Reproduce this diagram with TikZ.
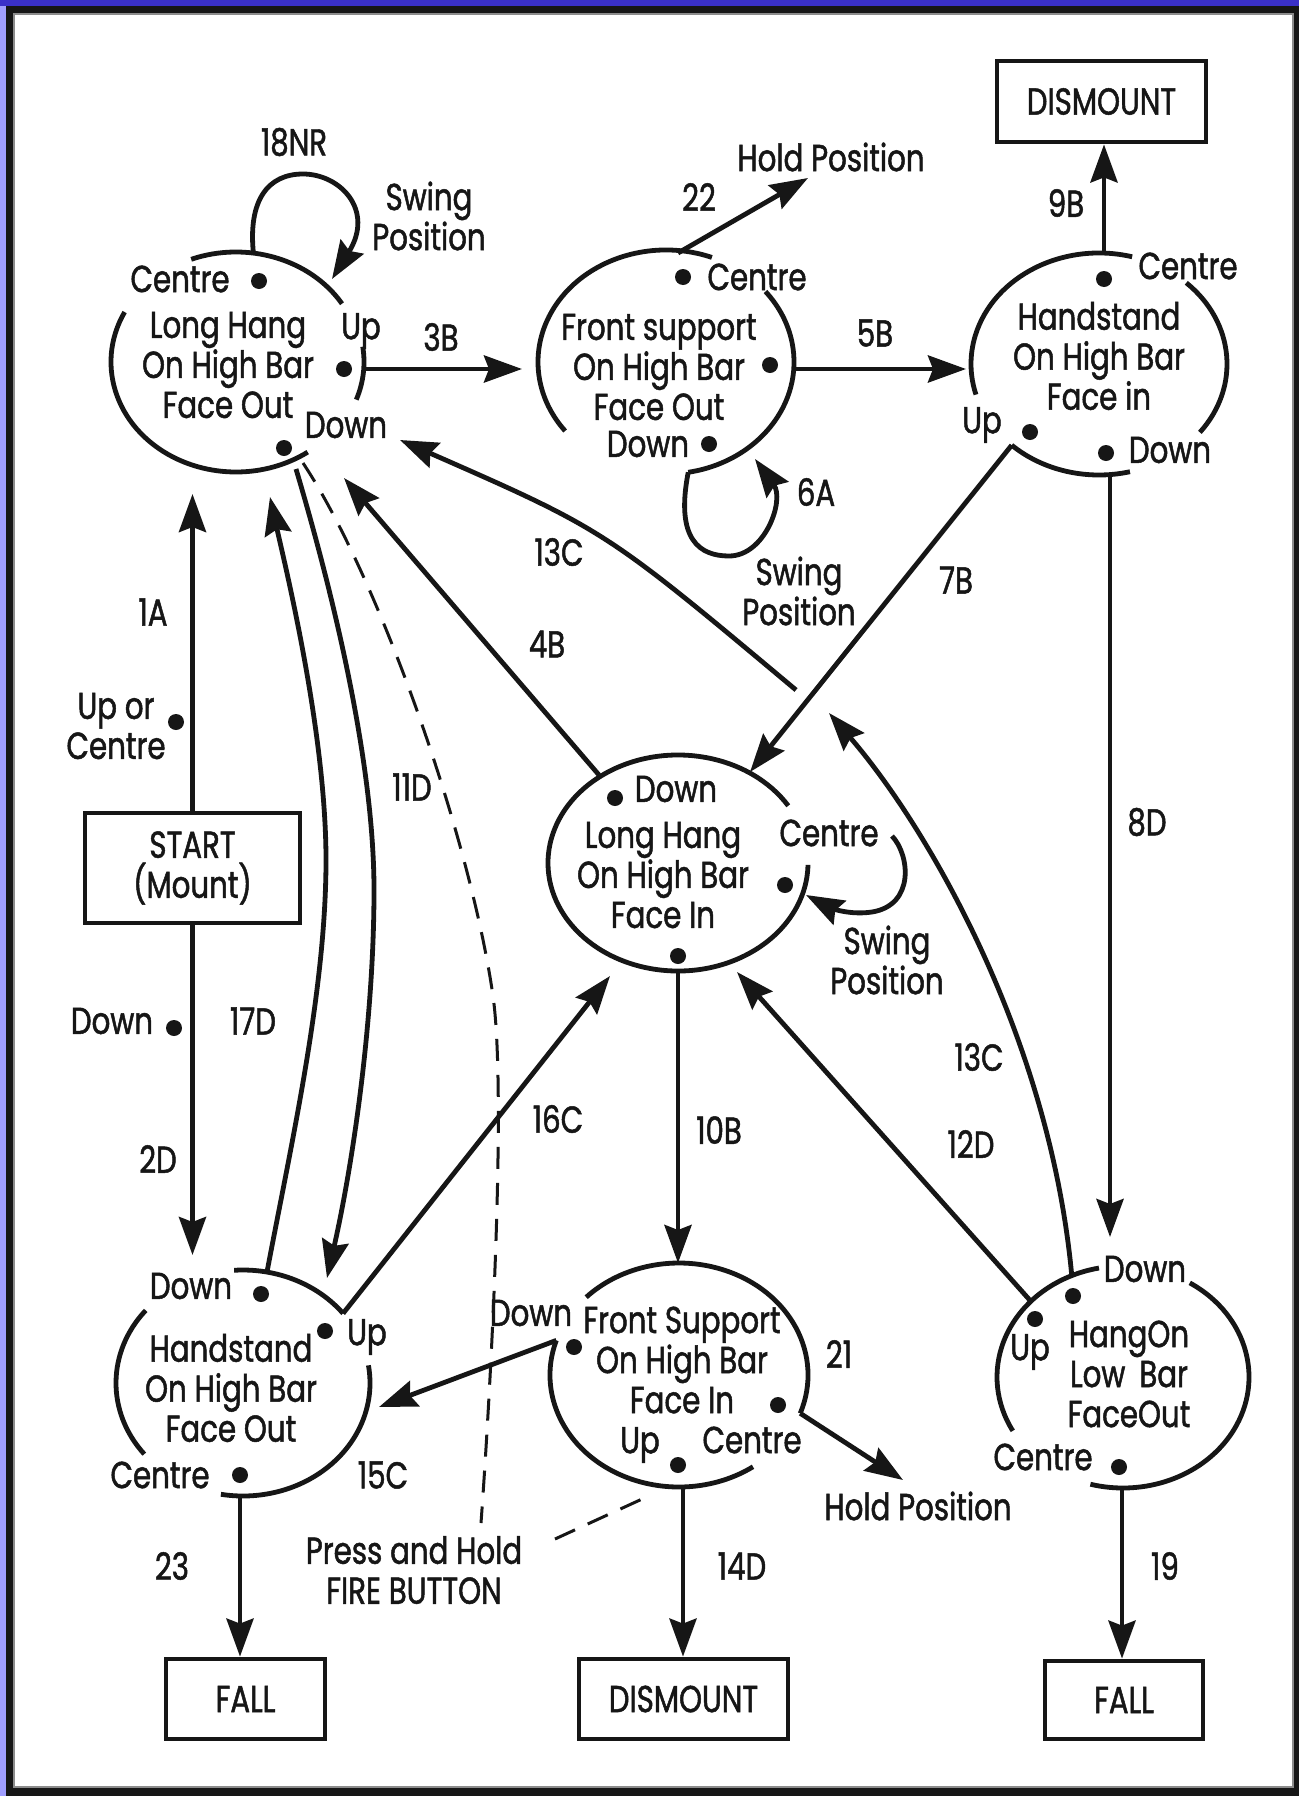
\documentclass[tikz,border=0pt]{standalone}
\usepackage{fontspec}
\setmainfont[FakeStretch=0.78,FakeBold=1.3]{Poppins}
\usetikzlibrary{arrows.meta}
\definecolor{topblue}{RGB}{58,48,200}
\definecolor{sideviolet}{RGB}{160,158,255}
\definecolor{rimgray}{RGB}{140,140,140}
\definecolor{ink}{RGB}{22,22,22}
\newcommand\EArc[5]{\draw[rim] ([shift={(#2:#4 and #5)}]#1) arc[start angle=#2,end angle=#3,x radius=#4,y radius=#5];}
\begin{document}
\begin{tikzpicture}[x=1pt,y=1pt,
  txt/.style={inner sep=0pt, align=center, text=ink, font=\fontsize{37.5}{40}\selectfont},
  state/.style={txt},
  termbox/.style={txt, draw=ink, line width=4.8pt},
  rim/.style={draw=ink, line width=4.8pt},
  conn/.style={draw=ink, line width=4.8pt, -{Stealth[length=38pt,width=27pt,inset=5pt]}},
  dashline/.style={draw=ink, line width=3pt, dash pattern=on 22pt off 14pt},
  dot/.style={circle, fill=ink, inner sep=0pt, minimum size=16pt}]
% frame
\useasboundingbox (0,0) rectangle (1299,-1796);
\fill[ink] (0,0) rectangle (1299,-1796);
\fill[topblue] (0,0) rectangle (1299,-6);
\fill[sideviolet] (0,-6) rectangle (6,-1796);
\fill[rimgray] (13,-13) rectangle (1294,-1788);
\fill[white] (15,-15) rectangle (1292,-1786);

% ellipse centres
\coordinate (Ac) at (236,-362);
\coordinate (Bc) at (666,-362);
\coordinate (Cc) at (1099,-364);
\coordinate (Dc) at (678,-863);
\coordinate (Ec) at (1123,-1377);
\coordinate (Fc) at (679,-1375);
\coordinate (Gc) at (243,-1383);

% states (text)
\node[state] (A) at (228,-365) {Long Hang\\On High Bar\\Face Out};
\node[state] (B) at (659,-367) {Front support\\On High Bar\\Face Out};
\node[state] (C) at (1099,-356) {Handstand\\On High Bar\\Face in};
\node[state] (D) at (663,-875) {Long Hang\\On High Bar\\Face In};
\node[state] (E) at (1129,-1374) {HangOn\\Low\hspace{14pt}Bar\\FaceOut};
\node[state] (F) at (682,-1360) {Front Support\\On High Bar\\Face In};
\node[state] (G) at (231,-1388) {Handstand\\On High Bar\\Face Out};

% state outlines (broken arcs)
\EArc{Ac}{32}{111}{125}{110}
\EArc{Ac}{-20}{8}{128}{110}
\EArc{Ac}{153}{305}{125}{110}
\EArc{Bc}{69}{218}{128}{112}
\EArc{Bc}{-80}{39}{128}{112}
\EArc{Cc}{75}{196}{128}{111}
\EArc{Cc}{-38}{47}{128}{111}
\EArc{Cc}{227}{284}{128}{111}
\EArc{Dc}{32}{359}{130}{108}
\EArc{Ec}{101}{209}{126}{111}
\EArc{Ec}{58}{-105}{126}{111}
\EArc{Fc}{-20}{136}{129}{112}
\EArc{Fc}{162}{305}{129}{112}
\EArc{Gc}{38}{94}{127}{113}
\EArc{Gc}{140}{219}{127}{113}
\EArc{Gc}{9}{-100}{127}{113}

% terminal boxes
\node[termbox, minimum width=209pt, minimum height=81pt] (DIS1) at (1101.5,-101.5) {DISMOUNT};
\node[termbox, minimum width=215pt, minimum height=110pt] (START) at (192.5,-868) {START\\(Mount)};
\node[termbox, minimum width=159pt, minimum height=80pt] (FALL1) at (245.5,-1699) {FALL};
\node[termbox, minimum width=209pt, minimum height=80pt] (DIS2) at (683.5,-1699) {DISMOUNT};
\node[termbox, minimum width=158pt, minimum height=78pt] (FALL2) at (1124,-1700) {FALL};

% position labels and dots
\node[txt] (A-lc) at (180,-279) {Centre};  \node[dot] (A-dc) at (259,-281) {};
\node[txt] (A-lu) at (361,-331) {Up};      \node[dot] (A-du) at (344,-369) {};
\node[txt] (A-ld) at (346,-425) {Down};    \node[dot] (A-dd) at (284,-448) {};
\node[dot] (B-dc) at (683,-277) {};        \node[txt] (B-lc) at (757,-277) {Centre};
\node[dot] (B-du) at (770,-365) {};
\node[txt] (B-ld) at (648,-444) {Down};    \node[dot] (B-dd) at (709,-444) {};
\node[dot] (C-dc) at (1104,-279) {};       \node[txt] (C-lc) at (1188,-266) {Centre};
\node[txt] (C-lu) at (982,-425) {Up};      \node[dot] (C-du) at (1030,-432) {};
\node[dot] (C-dd) at (1106,-453) {};       \node[txt] (C-ld) at (1170,-450) {Down};
\node[dot] (D-dd) at (615,-798) {};        \node[txt] (D-ld) at (676,-789) {Down};
\node[txt] (D-lc) at (829,-833) {Centre};  \node[dot] (D-dc) at (785,-885) {};
\node[dot] (D-du) at (678,-956) {};
\node[txt] (E-ld) at (1145,-1269) {Down};  \node[dot] (E-dd) at (1073,-1296) {};
\node[dot] (E-du) at (1035,-1319) {};      \node[txt] (E-lu) at (1030,-1352) {Up};
\node[txt] (E-lc) at (1043,-1457) {Centre};\node[dot] (E-dc) at (1119,-1467) {};
\node[txt] (F-ld) at (531,-1313) {Down};   \node[dot] (F-dd) at (574,-1347) {};
\node[dot] (F-dc) at (778,-1405) {};
\node[txt] (F-lu) at (640,-1445) {Up};     \node[dot] (F-du) at (678,-1465) {};
\node[txt] (F-lc) at (752,-1440) {Centre};
\node[txt] (G-ld) at (191,-1286) {Down};   \node[dot] (G-dd) at (261,-1294) {};
\node[dot] (G-du) at (325,-1331) {};       \node[txt] (G-lu) at (367,-1337) {Up};
\node[txt] (G-lc) at (160,-1475) {Centre}; \node[dot] (G-dc) at (240,-1475) {};
\node[txt] (S-lu) at (116,-726) {Up or\\Centre}; \node[dot] (S-du) at (176,-722) {};
\node[txt] (S-ld) at (112,-1021) {Down};   \node[dot] (S-dd) at (174,-1028) {};

% connector end points
\coordinate (A-loopS) at ([shift={(82:125 and 110)}]Ac);
\coordinate (A-loopE) at (332,-279);
\coordinate (A-r) at (362,-369);
\coordinate (B-in) at (522,-369);
\coordinate (B-r) at (796,-369);
\coordinate (C-in) at (966,-369);
\coordinate (B-t) at (678,-253);
\coordinate (Hold1) at (808,-178);
\coordinate (C-t) at (1104,-254);
\coordinate (C-b) at (1110,-474);
\coordinate (E-in8) at (1110,-1237);
\coordinate (C-bl) at ([shift={(227:128 and 111)}]Cc);
\coordinate (D-tr) at (750,-772);
\coordinate (D-tl) at (599,-775);
\coordinate (A-in4) at (344,-478);
\coordinate (A-in13) at (400,-440);
\coordinate (M13) at (796,-690);
\coordinate (M13b) at (829,-713);
\coordinate (E-t13) at ([shift={(114:126 and 111)}]Ec);
\coordinate (E-tl) at ([shift={(137:126 and 111)}]Ec);
\coordinate (D-in12) at (737,-972);
\coordinate (D-in16) at (610,-976);
\coordinate (G-tr) at ([shift={(38:127 and 113)}]Gc);
\coordinate (D-b) at (678,-971);
\coordinate (F-t) at (678,-1263);
\coordinate (F-b) at (683,-1487);
\coordinate (F-l) at ([shift={(162:129 and 112)}]Fc);
\coordinate (G-in15) at (379,-1407);
\coordinate (F-r) at ([shift={(-20:129 and 112)}]Fc);
\coordinate (Hold2) at (903,-1480);
\coordinate (E-b) at (1122,-1488);
\coordinate (G-b) at (240,-1495);
\coordinate (G-t17) at (267,-1272);
\coordinate (A-in17) at (270,-497);
\coordinate (A-b11) at (296,-469);
\coordinate (G-in11) at (327,-1278);
\coordinate (A-bd) at (303,-463);
\coordinate (Press) at (481,-1523);
\coordinate (Press2) at (555,-1539);
\coordinate (F-bd) at (653,-1494);
\coordinate (A-in1) at (193,-494);
\coordinate (G-in2) at (193,-1255);
\coordinate (B-loopS) at ([shift={(-80:128 and 112)}]Bc);
\coordinate (B-loopE) at (755,-459);
\coordinate (D-loopS) at (892,-836);
\coordinate (D-loopE) at (806,-895);

% connectors
\draw[conn] (START.north) -- (START.north |- A-in1);
\draw[conn] (START.south) -- (START.south |- G-in2);
\draw[conn] (A-r) -- (B-in);
\draw[conn] (B-r) -- (C-in);
\draw[conn] (B-t) -- (Hold1);
\draw[conn] (C-t) -- (C-t |- DIS1.south);
\draw[conn] (C-b) -- (E-in8);
\draw[conn] (C-bl) -- (D-tr);
\draw[conn] (M13) .. controls (605,-530) .. (A-in13);
\draw[conn] (E-t13) .. controls (1050,-1040) and (930,-830) .. (M13b);
\draw[conn] (D-tl) -- (A-in4);
\draw[conn] (G-t17) .. controls (292,-1140) and (326,-990) .. (326,-860) .. controls (326,-730) and (284,-561) .. (A-in17);
\draw[conn] (A-b11) .. controls (332,-590) and (374,-760) .. (374,-890) .. controls (374,-1020) and (353,-1163) .. (G-in11);
\draw[dashline] (A-bd) .. controls (378,-576) and (470,-836) .. (493,-996) .. controls (507,-1096) and (490,-1400) .. (Press);
\draw[dashline] (Press2) -- (F-bd);
\draw[conn] (G-tr) -- (D-in16);
\draw[conn] (D-b) -- (F-t);
\draw[conn] (E-tl) -- (D-in12);
\draw[conn] (F-l) -- (G-in15);
\draw[conn] (F-r) -- (Hold2);
\draw[conn] (F-b) -- (F-b |- DIS2.north);
\draw[conn] (E-b) -- (E-b |- FALL2.north);
\draw[conn] (G-b) -- (G-b |- FALL1.north);
\draw[conn] (A-loopS) .. controls (248,-200) and (268,-174) .. (303,-174) .. controls (340,-174) and (375,-210) .. (A-loopE);
\draw[conn] (B-loopS) .. controls (675,-540) and (700,-556) .. (729,-556) .. controls (765,-556) and (785,-500) .. (B-loopE);
\draw[conn] (D-loopS) .. controls (910,-855) and (915,-905) .. (872,-912) .. controls (845,-916) and (825,-905) .. (D-loopE);

% connector labels
\node[txt] (l18) at (294,-142) {18NR};
\node[txt] (lsw1) at (429,-216) {Swing\\Position};
\node[txt] (l3B) at (441,-337) {3B};
\node[txt] (l22) at (699,-197) {22};
\node[txt] (lhold1) at (831,-157) {Hold Position};
\node[txt] (l9B) at (1066,-203) {9B};
\node[txt] (l5B) at (875,-333) {5B};
\node[txt] (l6A) at (816,-492) {6A};
\node[txt] (lsw2) at (799,-591) {Swing\\Position};
\node[txt] (l13a) at (559,-552) {13C};
\node[txt] (l7B) at (956,-580) {7B};
\node[txt] (l1A) at (153,-612) {1A};
\node[txt] (l4B) at (547,-644) {4B};
\node[txt] (l11D) at (412,-787) {11D};
\node[txt] (l8D) at (1147,-822) {8D};
\node[txt] (lsw3) at (887,-960) {Swing\\Position};
\node[txt] (l17D) at (253,-1021) {17D};
\node[txt] (l13b) at (979,-1057) {13C};
\node[txt] (l16C) at (558,-1119) {16C};
\node[txt] (l10B) at (719,-1130) {10B};
\node[txt] (l12D) at (971,-1144) {12D};
\node[txt] (l2D) at (158,-1159) {2D};
\node[txt] (l21) at (839,-1354) {21};
\node[txt] (l15C) at (383,-1475) {15C};
\node[txt] (lhold2) at (918,-1506) {Hold Position};
\node[txt] (l23) at (172,-1566) {23};
\node[txt] (lpress) at (414,-1570) {Press and Hold\\FIRE BUTTON};
\node[txt] (l14D) at (742,-1566) {14D};
\node[txt] (l19) at (1165,-1566) {19};
\end{tikzpicture}
\end{document}
